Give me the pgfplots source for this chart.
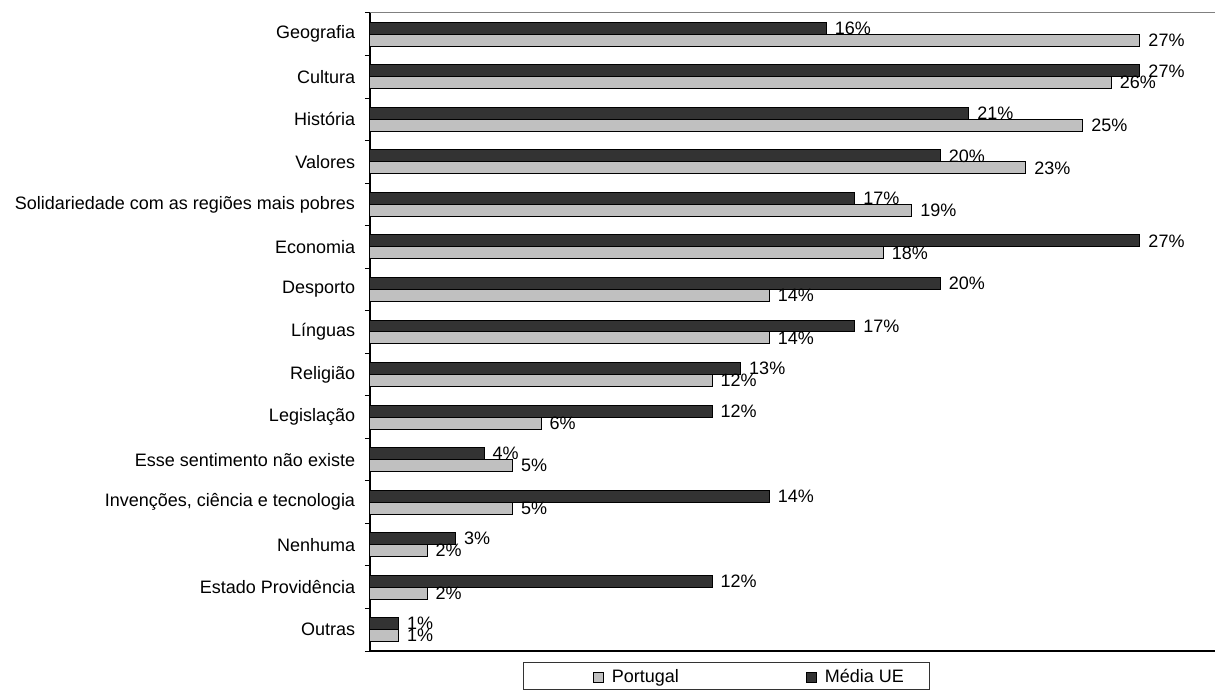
\documentclass[border=0pt]{standalone}
\usepackage{pgfplots}
\pgfplotsset{compat=1.18}
\usepackage{fontspec}
\setmainfont{Liberation Sans}
\definecolor{ue}{HTML}{333333}
\definecolor{pt}{HTML}{C0C0C0}
\newcommand{\lblfont}{\fontsize{13.5}{15}\selectfont}
\pgfplotsset{sqlegend/.style={legend image code/.code={\draw[##1] (0pt,-3.75pt) rectangle (7.5pt,3.75pt);}}}
\begin{document}
\begin{tikzpicture}
\begin{axis}[
    name=ax, at={(0,0)}, anchor=south west,
    scale only axis, width=633.75pt, height=478.5pt,
    xbar, bar width=0.282,
    xmin=0, xmax=29.63, ymin=-0.5, ymax=14.5, y dir=reverse,
    enlargelimits=false, clip=false,
    axis x line*=bottom, axis y line*=left,
    axis line style={black, line width=1pt},
    xtick=\empty,
    ytick={0,...,14},
    yticklabels={Geografia, Cultura, História, Valores,
        Solidariedade com as regiões mais pobres, Economia, Desporto,
        Línguas, Religião, Legislação, Esse sentimento não existe,
        {Invenções, ciência e tecnologia}, Nenhuma, Estado Providência, Outras},
    minor ytick={-0.5,0.5,...,14.5},
    major tick length=0pt,
    major tick style={draw=none},
    minor tick length=3.75pt,
    minor tick style={black, line width=0.75pt},
    tick align=outside,
    yticklabel style={anchor=east, inner sep=0pt, xshift=-11pt, font=\lblfont},
    nodes near coords={\pgfmathprintnumber[assume math mode=true]{\pgfplotspointmeta}\%},
    every node near coord/.append style={anchor=west, inner sep=0pt, xshift=6pt, font=\lblfont, black},
    legend columns=2,
    legend style={draw=none, fill=none, at={(0.2639,-0.0408)}, anchor=west,
        inner sep=0pt, font=\lblfont,
        /tikz/every odd column/.append style={column sep=3.75pt},
        /tikz/every even column/.append style={column sep=93.5pt}},
]
% Portugal
\addplot[fill=pt, draw=black, line width=0.75pt, bar shift=0.141, sqlegend]
    coordinates {(27,0) (26,1) (25,2) (23,3) (19,4) (18,5) (14,6) (14,7)
                 (12,8) (6,9) (5,10) (5,11) (2,12) (2,13) (1,14)};
% Media UE
\addplot[fill=ue, draw=black, line width=0.75pt, bar shift=-0.141, sqlegend]
    coordinates {(16,0) (27,1) (21,2) (20,3) (17,4) (27,5) (20,6) (17,7)
                 (13,8) (12,9) (4,10) (14,11) (3,12) (12,13) (1,14)};
\legend{Portugal, Média UE}
\draw[gray, line width=0.75pt] (axis description cs:0,1) -- (axis description cs:1,1);
\draw[black!80, line width=0.75pt] (axis description cs:0.1822,-0.01724) rectangle (axis description cs:0.6627,-0.0611);
\end{axis}
\pgfresetboundingbox
\path (-277.5pt,-30pt) rectangle (633.75pt,488.25pt);
\end{tikzpicture}
\end{document}
